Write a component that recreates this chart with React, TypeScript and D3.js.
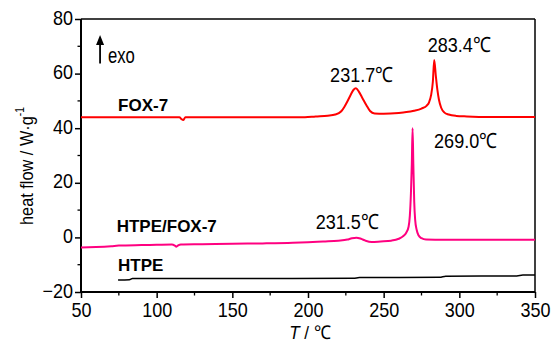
import React, { useEffect, useRef } from 'react';
import * as d3 from 'd3';

// FOX-7 (red)
const foxT = [50, 70, 90, 110, 115, 116.5, 117.5, 119, 125, 150, 180, 198, 205, 213, 218, 222, 224, 226, 228, 230, 231.7, 233.5, 236, 238.5, 241, 244, 250, 260, 265, 270, 275, 278.5, 280, 281.3, 282.5, 283.4, 284.5, 285.5, 286.5, 288, 290, 293, 298, 305, 320, 350];
const foxHF = [44, 44, 44, 44, 44, 43.3, 43.0, 44, 44, 44, 44, 44, 44.3, 44.6, 45.0, 46.2, 47.8, 49.8, 52, 54, 54.6, 53.5, 51.0, 48.5, 46.3, 45.4, 45.3, 45.6, 45.9, 46.4, 47.2, 48.3, 49.5, 52, 57, 65, 59, 54, 50.5, 47.5, 45.8, 45.0, 44.5, 44.3, 44.1, 44.1];

// HTPE/FOX-7 (pink)
const mixT = [50, 60, 70, 75, 90, 100, 110, 112, 113, 114.5, 116, 130, 150, 170, 190, 200, 210, 220, 226, 229, 232, 235, 238, 242, 248, 255, 260, 263, 265, 266.5, 267.3, 268, 268.6, 269.1, 269.6, 270.2, 270.8, 271.8, 273, 275, 278, 290, 320, 350];
const mixHF = [-3.7, -3.5, -3.2, -3.0, -2.8, -2.7, -2.6, -3.0, -3.4, -2.8, -2.6, -2.5, -2.3, -2.2, -2.0, -1.8, -1.5, -1.2, -0.8, -0.3, -0.1, -0.5, -1.2, -1.7, -1.5, -1.2, -0.5, 0.5, 1.8, 4, 8, 16, 27, 40, 27, 13, 6.5, 2.8, 0.8, -0.3, -0.8, -0.9, -0.9, -0.9];

// HTPE (black)
const htpeT = [74.5, 82, 84, 150, 230, 234, 287, 291, 338, 342, 350];
const htpeHF = [-15.6, -15.5, -15.1, -15.05, -15.0, -14.7, -14.6, -14.2, -14.1, -13.8, -13.8];

const xTicks = [50, 100, 150, 200, 250, 300, 350];
const yTicks = [-20, 0, 20, 40, 60, 80];

const curveLabels = ['FOX-7', 'HTPE/FOX-7', 'HTPE'];
const curveLabelT = [74.5, 73.6, 74.5];
const curveLabelY = [46.3, 1.8, -12.3];

const peakLabels = ['231.7℃', '283.4℃', '269.0℃', '231.5℃'];
const peakLabelT = [214.6, 279.1, 283.3, 205.1];
const peakLabelY = [56.8, 67.9, 32.9, 3.2];

export default function App() {
  const ref = useRef<SVGSVGElement>(null);

  useEffect(() => {
    const W = 551, H = 345;
    const margin = { top: 19, right: 16, bottom: 53, left: 81 };
    const width = W - margin.left - margin.right;
    const height = H - margin.top - margin.bottom;

    const svg = d3.select(ref.current);
    svg.selectAll('*').remove();

    const x = d3.scaleLinear().domain([50, 350]).range([0, width]);
    const y = d3.scaleLinear().domain([-20, 80]).range([height, 0]);

    const g = svg.append('g').attr('transform', `translate(${margin.left},${margin.top})`);
    const font = 'Liberation Sans, Arial, sans-serif';
    const narrow = 0.86;

    // minor ticks
    const xMinor = d3.range(75, 350, 50);
    const yMinor = d3.range(-10, 80, 20);
    g.selectAll('.xminor').data(xMinor).enter().append('line')
      .attr('x1', d => x(d)).attr('x2', d => x(d))
      .attr('y1', height).attr('y2', height + 3.5)
      .attr('stroke', '#000').attr('stroke-width', 1.3);
    g.selectAll('.yminor').data(yMinor).enter().append('line')
      .attr('y1', d => y(d)).attr('y2', d => y(d))
      .attr('x1', 0).attr('x2', -3.5)
      .attr('stroke', '#000').attr('stroke-width', 1.3);

    const xAxis = g.append('g').attr('transform', `translate(0,${height})`)
      .call(d3.axisBottom(x).tickValues(xTicks).tickSize(6).tickPadding(5).tickFormat(d3.format('d')));
    const yAxis = g.append('g')
      .call(d3.axisLeft(y).tickValues(yTicks).tickSize(6).tickPadding(3).tickFormat(d3.format('d')));
    [xAxis, yAxis].forEach(a => {
      a.select('.domain').remove();
      a.selectAll('line').attr('stroke', '#000').attr('stroke-width', 1.5);
      a.selectAll('text').attr('fill', '#000').attr('transform', 'scale(0.9,1)')
        .style('font-family', font).style('font-size', '20px');
    });
    yAxis.selectAll('text').attr('dy', '0.25em');

    // frame
    g.append('line').attr('x1', 0).attr('x2', width).attr('y1', 0).attr('y2', 0).attr('stroke', '#000').attr('stroke-width', 1.5);
    g.append('line').attr('x1', width).attr('x2', width).attr('y1', 0).attr('y2', height).attr('stroke', '#000').attr('stroke-width', 1.5);
    g.append('line').attr('x1', 0).attr('x2', width).attr('y1', height).attr('y2', height).attr('stroke', '#000').attr('stroke-width', 2);
    g.append('line').attr('x1', 0).attr('x2', 0).attr('y1', 0).attr('y2', height).attr('stroke', '#000').attr('stroke-width', 2);

    const series = [
      { t: htpeT, v: htpeHF, color: '#000000', w: 1.5 },
      { t: mixT, v: mixHF, color: '#ff0080', w: 2 },
      { t: foxT, v: foxHF, color: '#ff0000', w: 2 },
    ];
    series.forEach(s => {
      const pts = s.t.map((t, i) => [x(t), y(s.v[i])] as [number, number]);
      g.append('path')
        .attr('d', d3.line().curve(d3.curveMonotoneX)(pts))
        .attr('fill', 'none')
        .attr('stroke', s.color)
        .attr('stroke-width', s.w)
        .attr('stroke-linejoin', 'round');
    });

    curveLabels.forEach((lab, i) => {
      g.append('text').attr('x', x(curveLabelT[i])).attr('y', y(curveLabelY[i]))
        .style('font-family', font).style('font-size', '17px').style('font-weight', 'bold')
        .text(lab);
    });

    peakLabels.forEach((lab, i) => {
      g.append('text')
        .attr('transform', `translate(${x(peakLabelT[i])},${y(peakLabelY[i])}) scale(${narrow},1)`)
        .style('font-family', font).style('font-size', '21px')
        .text(lab);
    });

    // exo arrow
    const ax = x(62.6), ay = y(74.1);
    g.append('line').attr('x1', ax).attr('x2', ax).attr('y1', y(63.7)).attr('y2', ay + 8)
      .attr('stroke', '#000').attr('stroke-width', 1.8);
    g.append('path').attr('d', `M${ax},${ay} L${ax - 4},${ay + 10} L${ax + 4},${ay + 10} Z`).attr('fill', '#000');
    g.append('text').attr('transform', `translate(${x(67.8)},${y(63.7)}) scale(0.76,1)`)
      .style('font-family', font).style('font-size', '22px').text('exo');

    // axis titles
    const xt = svg.append('text').attr('transform', `translate(${margin.left + x(200) + 2},339) scale(0.9,1)`)
      .attr('text-anchor', 'middle').style('font-family', font).style('font-size', '19px');
    xt.append('tspan').style('font-style', 'italic').text('T');
    xt.append('tspan').text(' / ℃');

    const yt = svg.append('text').attr('transform', `translate(33,166) rotate(-90) scale(${narrow},1)`)
      .attr('text-anchor', 'middle').style('font-family', font).style('font-size', '19px');
    yt.append('tspan').text('heat flow / W·g');
    yt.append('tspan').attr('dy', -9).style('font-size', '12px').text('-1');
  }, []);

  return (
    <svg ref={ref} width={551} height={345}
      style={{ position: 'absolute', left: 0, top: 0, background: '#fff' }} />
  );
}
